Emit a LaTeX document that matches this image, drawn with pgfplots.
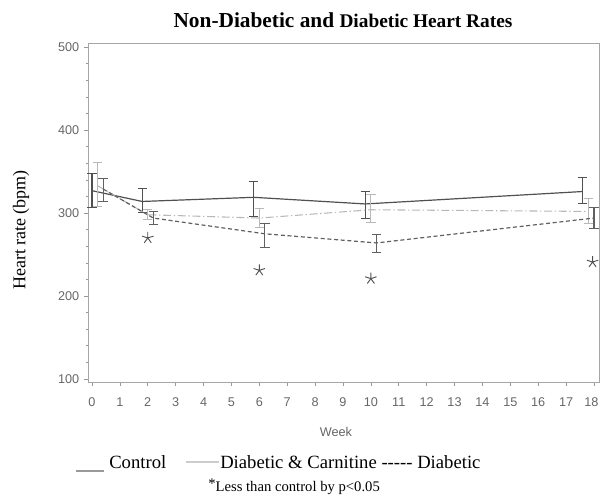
\documentclass[border=0pt]{standalone}
\usepackage{fontspec}
\setmainfont{Liberation Serif}
\setsansfont{Liberation Sans}
\usepackage{pgfplots}
\pgfplotsset{compat=1.18}
\usepackage{pgfplotstable}
\definecolor{ctrl}{HTML}{505050}
\definecolor{carn}{HTML}{B8B8B8}
\definecolor{diab}{HTML}{606060}
\definecolor{tick}{HTML}{666666}

\pgfplotstableread{
x y ep em
0 327 21 20
1.8 314 16 13
5.8 319 19 23
9.8 311 15 17
17.6 326 17 15
}\control
\pgfplotstableread{
x y ep em
0.2 333 28 25
2.0 298 6 6
6.0 294 11 11
10.0 304 19 15
17.8 302 16 14
}\carnitine
\pgfplotstableread{
x y ep em
0.4 329 13 15
2.2 294 8 8
6.2 275 13 16
10.2 264 10 12
18.0 294 13 13
}\diabetic
\pgfplotstableread{
x y
2 270
6 231
10 221
17.95 241
}\stars

\begin{document}
\begin{tikzpicture}
\useasboundingbox (-66pt,-85.5pt) rectangle (384.75pt,286.5pt);
\begin{axis}[
  at={(0,0)}, anchor=south west,
  scale only axis, width=383.25pt, height=254.25pt,
  xmin=-0.143, xmax=18.18, ymin=96.4, ymax=505,
  xtick={0,1,...,18},
  xticklabels={0,1,2,3,4,5,6,7,8,9,10,11,12,13,14,15,16,17,{\hspace*{-4pt}18}},
  ytick={100,200,300,400,500},
  minor y tick num=4,
  tick align=outside,
  major tick length=3pt, minor tick length=1.5pt,
  xtick pos=bottom, ytick pos=left,
  axis line style={gray!70, line width=0.6pt},
  tick style={gray!80, line width=0.5pt},
  /pgf/number format/assume math mode=true,
  tick label style={font=\sffamily\fontsize{9.5}{11}\selectfont, text=tick},
  xticklabel style={yshift=-5pt},
  clip=false,
]
\addplot[ctrl, line width=0.9pt, error bars/.cd, y dir=both, y explicit,
  error mark options={ctrl, line width=0.8pt, mark size=3.5pt, rotate=90},
  error bar style={ctrl, line width=0.8pt}]
  table[x=x, y=y, y error plus=ep, y error minus=em] {\control};
\addplot[carn, line width=0.8pt, dash pattern=on 6pt off 2pt on 1pt off 2pt, error bars/.cd, y dir=both, y explicit,
  error mark options={carn, line width=0.7pt, mark size=3.5pt, rotate=90},
  error bar style={carn, line width=0.7pt, solid}]
  table[x=x, y=y, y error plus=ep, y error minus=em] {\carnitine};
\addplot[diab, line width=0.9pt, dash pattern=on 3pt off 2pt, error bars/.cd, y dir=both, y explicit,
  error mark options={diab, line width=0.8pt, mark size=3.5pt, rotate=90},
  error bar style={diab, line width=0.8pt, solid}]
  table[x=x, y=y, y error plus=ep, y error minus=em] {\diabetic};
\addplot[only marks, mark=star, mark size=4.5pt, mark options={ctrl, line width=0.7pt}]
  table[x=x, y=y] {\stars};
\end{axis}
\node[font=\bfseries] at (191.25pt,271.5pt) {\fontsize{16}{18}\selectfont Non-Diabetic and \fontsize{14.5}{18}\selectfont Diabetic Heart Rates};
\node[rotate=90, font=\fontsize{13.5}{16}\selectfont] at (-50.25pt,114pt) {Heart rate (bpm)};
\node[font=\sffamily\fontsize{9.5}{11}\selectfont, text=tick] at (186pt,-37.5pt) {Week};
\draw[gray!80, line width=1pt] (-9pt,-66.75pt) -- (12pt,-66.75pt);
\node[anchor=west, inner sep=0pt, font=\fontsize{14}{16}\selectfont] at (15.75pt,-60pt) {Control};
\draw[carn!70, line width=0.8pt] (73.5pt,-60pt) -- (98.25pt,-60pt);
\node[anchor=west, inner sep=0pt, font=\fontsize{14}{16}\selectfont] at (99pt,-60pt) {Diabetic \& Carnitine -{}-{}-{}-{}- Diabetic};
\node[anchor=west, inner sep=0pt, font=\fontsize{11}{13}\selectfont] at (90pt,-78.75pt) {\raisebox{0.4ex}{*}Less than control by p<0.05};
\end{tikzpicture}
\end{document}
